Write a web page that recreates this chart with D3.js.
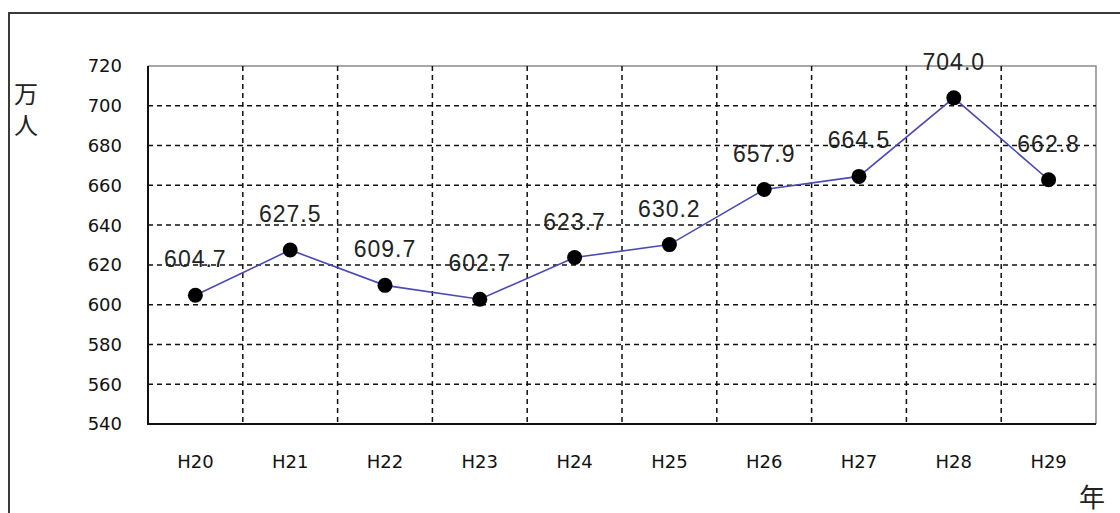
<!DOCTYPE html>
<html>
<head>
<meta charset="utf-8">
<script src="https://cdn.jsdelivr.net/npm/d3@7/dist/d3.min.js"></script>
<style>
  html, body { margin: 0; padding: 0; background: #ffffff; }
  svg { display: block; }
</style>
</head>
<body>
<svg id="chart" width="1120" height="513"></svg>
<script>
// Annual figures (10,000 persons) for fiscal years H20–H29
const years = ["H20", "H21", "H22", "H23", "H24", "H25", "H26", "H27", "H28", "H29"];
const values = [604.7, 627.5, 609.7, 602.7, 623.7, 630.2, 657.9, 664.5, 704.0, 662.8];
const yTicks = [540, 560, 580, 600, 620, 640, 660, 680, 700, 720];
const yUnit = "万人";
const xUnit = "年";

const svg = d3.select("#chart");
const W = 1120, H = 513;
const plot = { left: 148, top: 66, right: 1096, bottom: 424 };

const x = d3.scaleBand().domain(years).range([plot.left, plot.right]).padding(0);
const y = d3.scaleLinear().domain([540, 720]).range([plot.bottom, plot.top]);

// outer frame (top and left edges)
svg.append("path")
  .attr("d", `M9,${H} V13 H${W}`)
  .attr("fill", "none").attr("stroke", "#3a3a3a").attr("stroke-width", 2);

// plot area border (top and right, grey)
svg.append("path")
  .attr("d", `M${plot.left},${plot.top} H${plot.right} V${plot.bottom}`)
  .attr("fill", "none").attr("stroke", "#8a8a8a").attr("stroke-width", 1.5);

// horizontal dashed gridlines
svg.append("g").selectAll("line")
  .data(yTicks.filter(v => v > 540 && v < 720))
  .join("line")
  .attr("x1", plot.left).attr("x2", plot.right)
  .attr("y1", d => y(d)).attr("y2", d => y(d))
  .attr("stroke", "#111").attr("stroke-width", 1.5)
  .attr("stroke-dasharray", "5,4");

// vertical dashed gridlines at category boundaries
svg.append("g").selectAll("line")
  .data(years.slice(1))
  .join("line")
  .attr("x1", d => x(d)).attr("x2", d => x(d))
  .attr("y1", plot.top).attr("y2", plot.bottom)
  .attr("stroke", "#111").attr("stroke-width", 1.5)
  .attr("stroke-dasharray", "5,4");

// y axis
const yAxis = d3.axisLeft(y).tickValues(yTicks).tickSize(0).tickPadding(26);
const gy = svg.append("g").attr("transform", `translate(${plot.left},0)`).call(yAxis);
gy.select(".domain").remove();
gy.selectAll("text")
  .attr("font-family", "DejaVu Sans, sans-serif")
  .attr("font-size", 18)
  .attr("fill", "#111")
  .attr("dy", "0.33em");

// x axis
const xAxis = d3.axisBottom(x).tickSize(0).tickPadding(31);
const gx = svg.append("g").attr("transform", `translate(0,${plot.bottom})`).call(xAxis);
gx.select(".domain").remove();
gx.selectAll("text")
  .attr("font-family", "DejaVu Sans, sans-serif")
  .attr("font-size", 18)
  .attr("fill", "#111");

// axis lines (left and bottom, black)
svg.append("path")
  .attr("d", `M${plot.left},${plot.top} V${plot.bottom} H${plot.right}`)
  .attr("fill", "none").attr("stroke", "#111").attr("stroke-width", 2);

// data line
const cx = d => x(d.year) + x.bandwidth() / 2;
const data = years.map((yr, i) => ({ year: yr, value: values[i] }));

svg.append("path")
  .datum(data)
  .attr("fill", "none")
  .attr("stroke", "#4a4ab4")
  .attr("stroke-width", 1.6)
  .attr("d", d3.line().x(cx).y(d => y(d.value)));

// markers
svg.append("g").selectAll("circle")
  .data(data)
  .join("circle")
  .attr("cx", cx).attr("cy", d => y(d.value))
  .attr("r", 7.5)
  .attr("fill", "#000");

// value labels
svg.append("g").selectAll("text")
  .data(data)
  .join("text")
  .attr("x", cx).attr("y", d => y(d.value) - 28)
  .attr("text-anchor", "middle")
  .attr("font-family", "Liberation Sans, Arial, sans-serif")
  .attr("font-size", 23)
  .attr("letter-spacing", 1)
  .attr("fill", "#222")
  .text(d => d.value.toFixed(1));

// y unit, set vertically
svg.append("text")
  .attr("x", 26).attr("y", 82)
  .attr("style", "writing-mode: vertical-rl; letter-spacing: 7px")
  .attr("font-family", "Noto Sans CJK JP, sans-serif")
  .attr("font-size", 24)
  .attr("fill", "#222")
  .text(yUnit);

// x unit
svg.append("text")
  .attr("x", 1092).attr("y", 507)
  .attr("text-anchor", "middle")
  .attr("font-family", "Noto Sans CJK JP, sans-serif")
  .attr("font-size", 26)
  .attr("fill", "#222")
  .text(xUnit);
</script>
</body>
</html>
